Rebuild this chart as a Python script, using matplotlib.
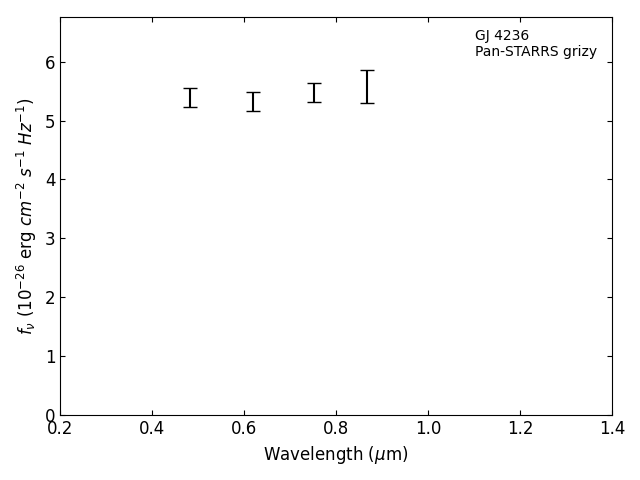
import matplotlib
matplotlib.use("Agg")
from matplotlib import pyplot as plt
import numpy as np

# Pan-STARRS grizy photometry
wave = [0.483, 0.620, 0.752, 0.867]
flux = [5.395, 5.33, 5.475, 5.58]
err = [0.16, 0.16, 0.155, 0.285]

name = "GJ 4236"
survey = "Pan-STARRS grizy"

fig, ax = plt.subplots(figsize=(6.4, 4.8), dpi=100)
ax.errorbar(wave, flux, yerr=err, fmt="none", ecolor="black", capsize=5)

ax.set_xlim(0.2, 1.4)
ax.set_ylim(0, 6.76)
ax.tick_params(direction="in", top=True, right=True, labelsize=12)
ax.set_xlabel(r"Wavelength ($\mu$m)", fontsize=12)
ax.set_ylabel(r"$f_\nu$ ($10^{-26}$ erg $cm^{-2}$ $s^{-1}$ $Hz^{-1}$)", fontsize=12)
ax.text(0.752, 0.97, name + "\n" + survey, transform=ax.transAxes,
        va="top", ha="left", fontsize=10)

plt.subplots_adjust(left=0.094, right=0.956, top=0.965, bottom=0.135)
plt.savefig("out.png")
